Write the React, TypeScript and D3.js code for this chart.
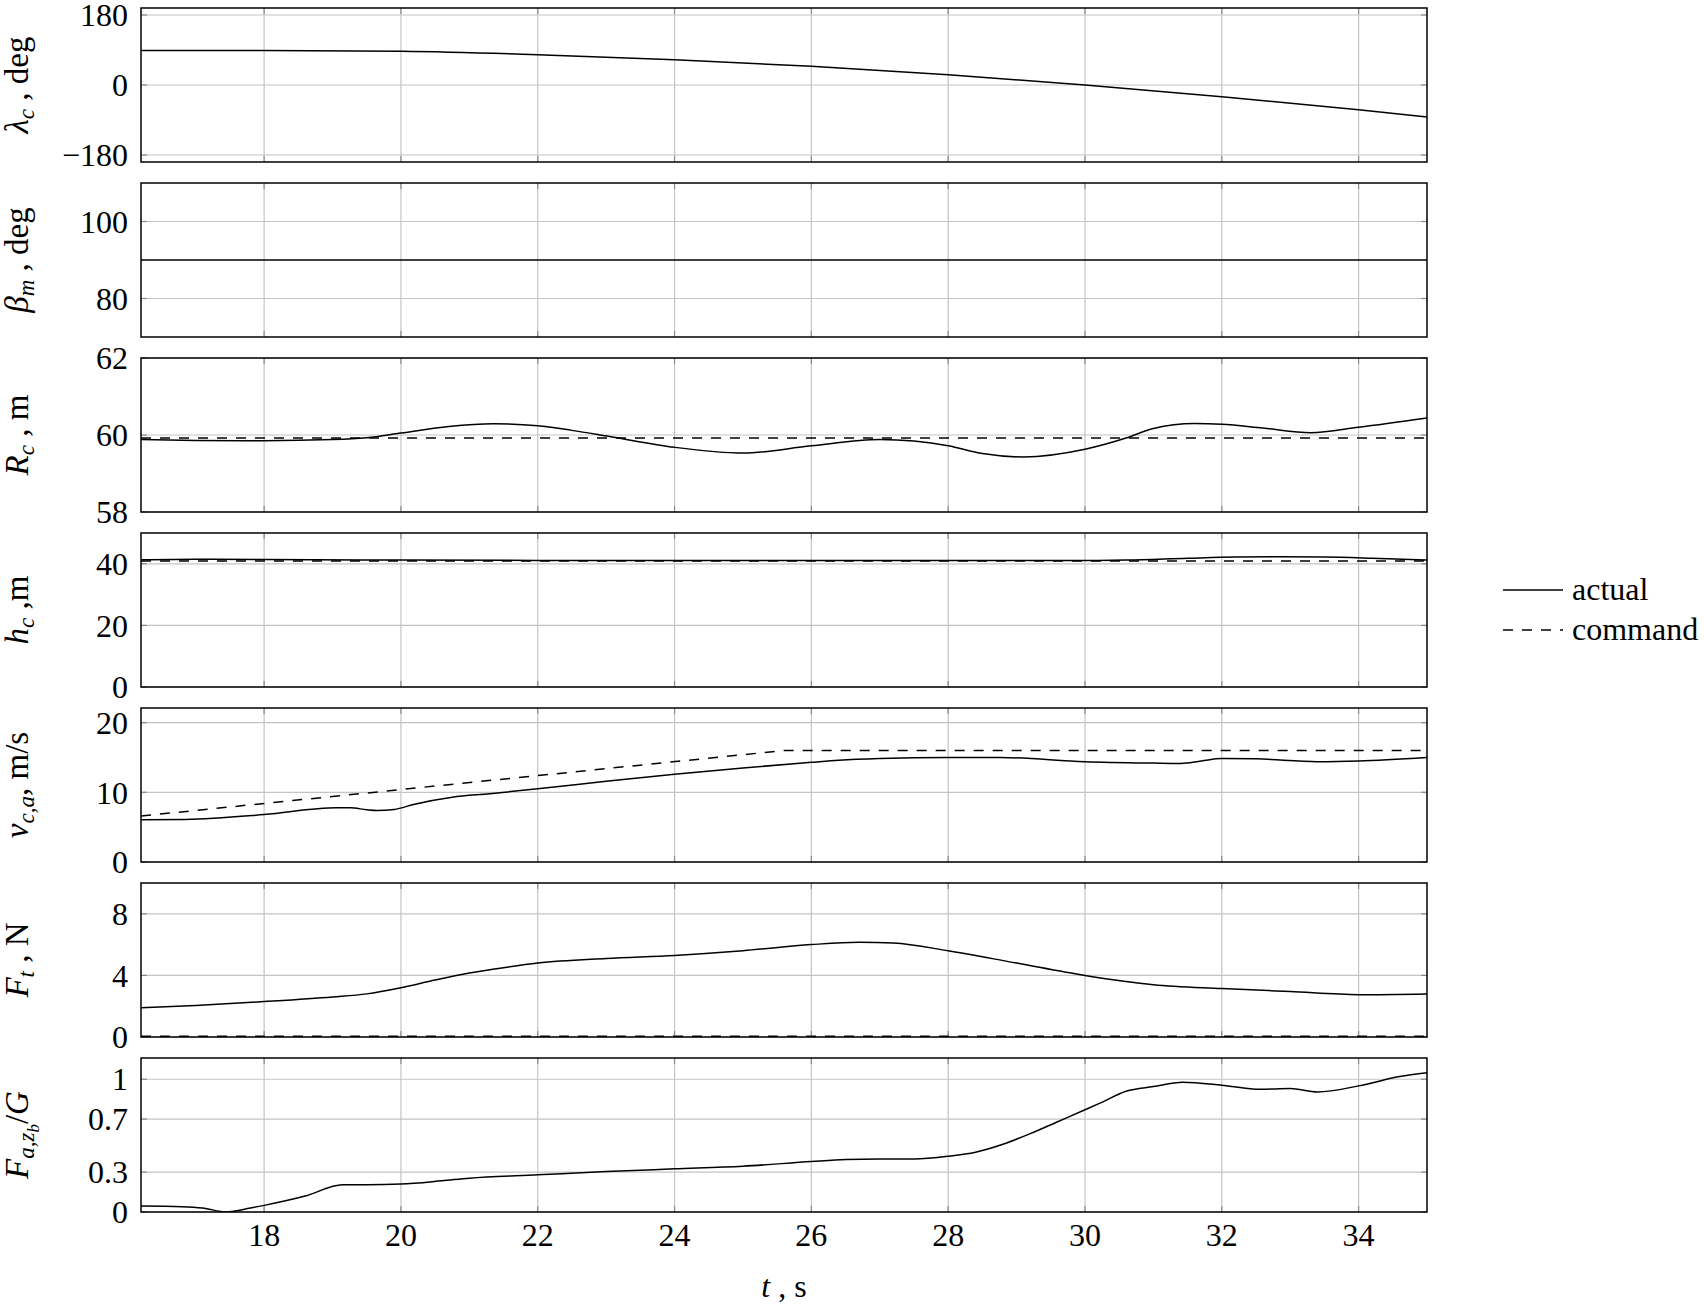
import React from 'react';
import * as d3 from 'd3';

const W = 1704;
const H = 1304;
const left = 141;
const right = 1427;
const panelH = 154;
const panelStep = 175;
const firstTop = 8;
const FONT = '"Liberation Serif", "Times New Roman", serif';
const FS = 32;

// time axis
const xDomain = [16.2, 35];
const xTicks = [18, 20, 22, 24, 26, 28, 30, 32, 34];

// lambda_c (deg)
const lambdaT = [16.2, 18, 20, 22, 24, 26, 28, 30, 32, 34, 35];
const lambdaV = [89, 89, 86.6, 78, 65, 48, 26.5, 0, -30, -63.5, -82];

// beta_m (deg)
const betaT = [16.2, 35];
const betaV = [90, 90];

// R_c (m)
const rT = [16.2, 17, 18, 19, 19.5, 20, 20.7, 21.35, 22, 22.5, 23.05, 24, 25, 26, 27, 28, 28.5, 29.1, 30, 30.6, 31, 31.6, 32, 32.6, 33.3, 34, 35];
const rV = [59.88, 59.86, 59.85, 59.88, 59.93, 60.05, 60.22, 60.29, 60.24, 60.12, 59.96, 59.68, 59.53, 59.72, 59.88, 59.72, 59.52, 59.43, 59.63, 59.92, 60.17, 60.3, 60.28, 60.18, 60.06, 60.2, 60.44];
const rCmdT = [16.2, 35];
const rCmdV = [59.92, 59.92];

// h_c (m)
const hT = [16.2, 17, 18, 20, 22, 24, 26, 28, 30, 30.6, 31.5, 32.2, 32.8, 33.5, 34.2, 35];
const hV = [41.3, 41.5, 41.4, 41.2, 41.1, 41.1, 41.1, 41.1, 41.1, 41.2, 41.8, 42.2, 42.3, 42.2, 41.8, 41.2];
const hCmdT = [16.2, 35];
const hCmdV = [40.9, 40.9];

// v_{c,a} (m/s)
const vT = [16.2, 16.85, 18, 19.06, 19.26, 19.5, 19.65, 19.9, 20.2, 20.75, 21.3, 22, 23, 24, 25, 26, 26.4, 27, 28, 28.76, 30, 31, 31.4, 31.7, 32, 32.5, 33.4, 34, 35];
const vV = [6.05, 6.1, 6.8, 7.77, 7.77, 7.5, 7.4, 7.55, 8.3, 9.3, 9.8, 10.5, 11.6, 12.6, 13.5, 14.3, 14.6, 14.85, 15.0, 15.0, 14.4, 14.2, 14.15, 14.5, 14.85, 14.8, 14.4, 14.5, 15.0];
const vCmdT = [16.2, 25.6, 35];
const vCmdV = [6.6, 16.0, 16.0];

// F_t (N)
const fT = [16.2, 17, 18, 19, 19.5, 20, 20.5, 21, 21.5, 22, 23, 24, 25, 26, 26.7, 27.2, 28, 29, 30, 31, 32, 33, 34, 35];
const fV = [1.9, 2.05, 2.3, 2.6, 2.8, 3.2, 3.7, 4.15, 4.5, 4.8, 5.1, 5.3, 5.6, 6.0, 6.15, 6.1, 5.6, 4.8, 4.0, 3.4, 3.15, 2.95, 2.75, 2.8];
const fCmdT = [16.2, 35];
const fCmdV = [0.05, 0.05];

// F_{a,z_b}/G
const gT = [16.2, 16.8, 17.1, 17.45, 17.8, 18.0, 18.6, 19.15, 19.5, 20, 20.6, 21, 22, 23, 24, 25, 26, 26.5, 27, 27.5, 28, 28.4, 28.8, 29.2, 29.6, 30, 30.22, 30.6, 31, 31.43, 32, 32.56, 33.0, 33.4, 34, 34.6, 35];
const gV = [0.045, 0.04, 0.03, 0.0, 0.03, 0.05, 0.12, 0.205, 0.205, 0.21, 0.235, 0.255, 0.28, 0.305, 0.325, 0.345, 0.38, 0.395, 0.4, 0.4, 0.42, 0.45, 0.51, 0.59, 0.68, 0.77, 0.82, 0.91, 0.945, 0.977, 0.955, 0.924, 0.93, 0.904, 0.95, 1.02, 1.048];

type Seg = { t: string; it?: boolean; sub?: number };
type Series = { t: number[]; v: number[]; dashed?: boolean };
type Panel = { domain: number[]; ticks: number[]; tickFmt?: (d: number) => string; label: Seg[]; series: Series[] };

const minusFmt = (d: number) => (d < 0 ? '\u2212' + Math.abs(d) : String(d));

const panels: Panel[] = [
  { domain: [-198, 198], ticks: [-180, 0, 180], tickFmt: minusFmt,
    label: [{ t: 'λ', it: true }, { t: 'c', it: true, sub: 1 }, { t: ' , deg' }],
    series: [{ t: lambdaT, v: lambdaV }] },
  { domain: [70, 110], ticks: [80, 100],
    label: [{ t: 'β', it: true }, { t: 'm', it: true, sub: 1 }, { t: ' , deg' }],
    series: [{ t: betaT, v: betaV }] },
  { domain: [58, 62], ticks: [58, 60, 62],
    label: [{ t: 'R', it: true }, { t: 'c', it: true, sub: 1 }, { t: ' , m' }],
    series: [{ t: rCmdT, v: rCmdV, dashed: true }, { t: rT, v: rV }] },
  { domain: [0, 50], ticks: [0, 20, 40],
    label: [{ t: 'h', it: true }, { t: 'c', it: true, sub: 1 }, { t: ' ,m' }],
    series: [{ t: hCmdT, v: hCmdV, dashed: true }, { t: hT, v: hV }] },
  { domain: [0, 22.1], ticks: [0, 10, 20],
    label: [{ t: 'v', it: true }, { t: 'c,a', it: true, sub: 1 }, { t: ', m/s' }],
    series: [{ t: vCmdT, v: vCmdV, dashed: true }, { t: vT, v: vV }] },
  { domain: [0, 10], ticks: [0, 4, 8],
    label: [{ t: 'F', it: true }, { t: 't', it: true, sub: 1 }, { t: ' , N' }],
    series: [{ t: fCmdT, v: fCmdV, dashed: true }, { t: fT, v: fV }] },
  { domain: [0, 1.16], ticks: [0, 0.3, 0.7, 1],
    label: [{ t: 'F', it: true }, { t: 'a,z', it: true, sub: 1 }, { t: 'b', it: true, sub: 2 }, { t: '/', sub: 0 }, { t: 'G', it: true }],
    series: [{ t: gT, v: gV }] },
];

const subSize = [33, 23, 17];
const subShift = [0, 6, 11];

function RichLabel({ segs, x, y }: { segs: Seg[]; x: number; y: number }) {
  let cur = 0;
  return (
    <text transform={`translate(${x},${y}) rotate(-90)`} textAnchor="middle" fontFamily={FONT} fontSize={33}>
      {segs.map((s, i) => {
        const lvl = s.sub || 0;
        const dy = subShift[lvl] - cur;
        cur = subShift[lvl];
        return (
          <tspan key={i} dy={dy} fontSize={subSize[lvl]} fontStyle={s.it ? 'italic' : 'normal'} style={{ whiteSpace: 'pre' }}>
            {s.t}
          </tspan>
        );
      })}
    </text>
  );
}

export default function App() {
  const x = d3.scaleLinear().domain(xDomain).range([left, right]);

  return (
    <svg width={W} height={H} style={{ position: 'absolute', left: 0, top: 0, background: '#fff' }}>
      <rect width={W} height={H} fill="#fff" />
      {panels.map((p, i) => {
        const top = firstTop + i * panelStep;
        const bottom = top + panelH;
        const y = d3.scaleLinear().domain(p.domain).range([bottom, top]);
        const fmt = p.tickFmt || ((d: number) => String(d));
        const clipId = `clip${i}`;
        return (
          <g key={i}>
            <defs>
              <clipPath id={clipId}>
                <rect x={left} y={top} width={right - left} height={panelH} />
              </clipPath>
            </defs>
            {/* grid */}
            {xTicks.map(t => (
              <line key={'gx' + t} x1={x(t)} x2={x(t)} y1={top} y2={bottom} stroke="#c4c4c4" strokeWidth={1.2} />
            ))}
            {p.ticks.map(t => (
              <line key={'gy' + t} x1={left} x2={right} y1={y(t)} y2={y(t)} stroke="#c4c4c4" strokeWidth={1.2} />
            ))}
            {/* tick marks */}
            {xTicks.map(t => (
              <g key={'tx' + t} stroke="#8c8c8c" strokeWidth={1.2}>
                <line x1={x(t)} x2={x(t)} y1={bottom} y2={bottom - 6} />
                <line x1={x(t)} x2={x(t)} y1={top} y2={top + 6} />
              </g>
            ))}
            {p.ticks.map(t => (
              <g key={'ty' + t} stroke="#8c8c8c" strokeWidth={1.2}>
                <line x1={left} x2={left + 6} y1={y(t)} y2={y(t)} />
                <line x1={right} x2={right - 6} y1={y(t)} y2={y(t)} />
              </g>
            ))}
            {/* series */}
            <g clipPath={`url(#${clipId})`}>
              {p.series.map((s, k) => {
                const gen = d3.line<number>()
                  .x((_, j) => x(s.t[j]))
                  .y(d => y(d))
                  .curve(s.dashed ? d3.curveLinear : d3.curveMonotoneX);
                return (
                  <path key={k} d={gen(s.v) || ''} fill="none" stroke="#000" strokeWidth={1.5}
                    strokeDasharray={s.dashed ? '10,9' : undefined} />
                );
              })}
            </g>
            {/* frame */}
            <rect x={left} y={top} width={right - left} height={panelH} fill="none" stroke="#000" strokeWidth={1.5} />
            {/* y tick labels */}
            {p.ticks.map(t => (
              <text key={'yl' + t} x={128} y={y(t)} dy="0.35em" textAnchor="end" fontFamily={FONT} fontSize={FS}>
                {fmt(t)}
              </text>
            ))}
            <RichLabel segs={p.label} x={28} y={(top + bottom) / 2} />
          </g>
        );
      })}
      {/* x tick labels */}
      {xTicks.map(t => (
        <text key={'xl' + t} x={x(t)} y={1246} textAnchor="middle" fontFamily={FONT} fontSize={FS}>
          {t}
        </text>
      ))}
      <text x={(left + right) / 2} y={1297} textAnchor="middle" fontFamily={FONT} fontSize={FS} style={{ whiteSpace: 'pre' }}>
        <tspan fontStyle="italic">t</tspan>
        <tspan> , s</tspan>
      </text>
      {/* legend */}
      <g fontFamily={FONT} fontSize={FS}>
        <line x1={1503} x2={1563} y1={590} y2={590} stroke="#000" strokeWidth={1.5} />
        <text x={1572} y={600}>actual</text>
        <line x1={1503} x2={1563} y1={630} y2={630} stroke="#000" strokeWidth={1.5} strokeDasharray="10,9" />
        <text x={1572} y={640}>command</text>
      </g>
    </svg>
  );
}
